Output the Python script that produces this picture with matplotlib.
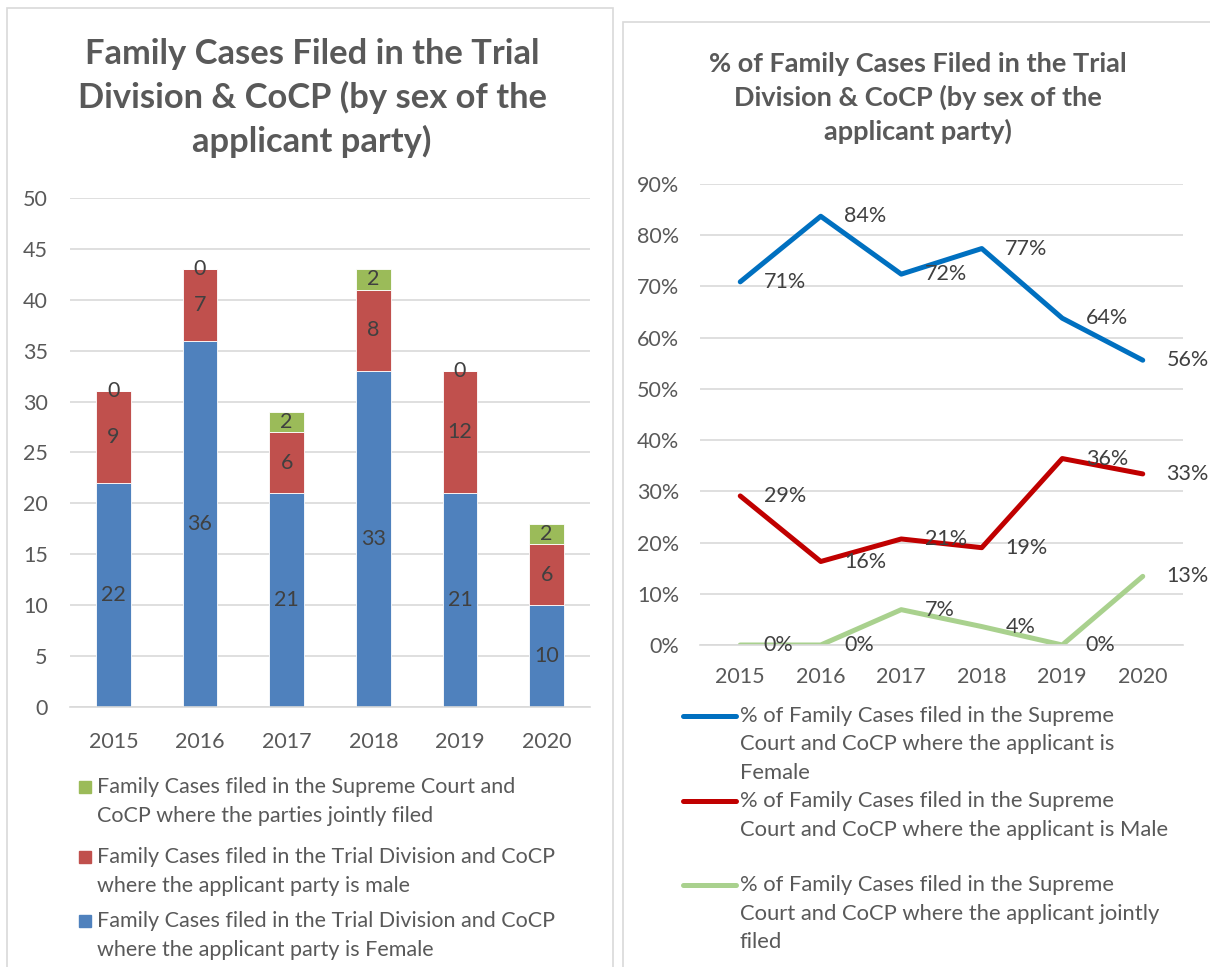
import matplotlib.pyplot as plt
from matplotlib.patches import Rectangle
from matplotlib.lines import Line2D
from matplotlib.ticker import PercentFormatter
import numpy as np

plt.rcParams['font.family'] = ['Lato', 'DejaVu Sans']

years = ['2015', '2016', '2017', '2018', '2019', '2020']

# case counts by applicant party
female = [22, 36, 21, 33, 21, 10]
male = [9, 7, 6, 8, 12, 6]
joint = [0, 0, 2, 2, 0, 2]

# share of cases by applicant party
pct_female = [0.709, 0.837, 0.724, 0.774, 0.638, 0.556]
pct_male = [0.291, 0.163, 0.207, 0.190, 0.364, 0.334]
pct_joint = [0.0, 0.0, 0.069, 0.036, 0.0, 0.134]

bar_legend = [
    'Family Cases filed in the Supreme Court and\nCoCP where the parties jointly filed',
    'Family Cases filed in the Trial Division and CoCP\nwhere the applicant party is male',
    'Family Cases filed in the Trial Division and CoCP\nwhere the applicant party is Female',
]
line_legend = [
    '% of Family Cases filed in the Supreme\nCourt and CoCP where the applicant is\nFemale',
    '% of Family Cases filed in the Supreme\nCourt and CoCP where the applicant is Male',
    '% of Family Cases filed in the Supreme\nCourt and CoCP where the applicant jointly\nfiled',
]

TXT = '#595959'
LBL = '#404040'
GRID = '#d9d9d9'
FS = 15.5

W, H = 1210, 967
fig = plt.figure(figsize=(W / 100, H / 100), dpi=100)


def fx(px):
    return px / W


def fy(py):
    return 1 - py / H


# chart frames
fig.patches.append(Rectangle((fx(7), fy(1000)), fx(606), (1000 - 8) / H, transform=fig.transFigure,
                             fill=False, edgecolor=GRID, lw=1.2))
fig.patches.append(Rectangle((fx(623), fy(1000)), fx(700), (1000 - 22) / H, transform=fig.transFigure,
                             fill=False, edgecolor=GRID, lw=1.2))


def style_axes(ax, ypad, xpad):
    for s in ['top', 'right', 'left']:
        ax.spines[s].set_visible(False)
    ax.spines['bottom'].set_color(GRID)
    ax.spines['bottom'].set_linewidth(1.2)
    ax.grid(axis='y', color=GRID, lw=1.2)
    ax.set_axisbelow(True)
    ax.tick_params(length=0, labelsize=FS, labelcolor=TXT)
    ax.tick_params(axis='y', pad=ypad)
    ax.tick_params(axis='x', pad=xpad)


# ---- stacked bars ----
x = np.arange(len(years))
ax1 = fig.add_axes([fx(70), fy(707), (590 - 70) / W, (707 - 198) / H])
b1 = ax1.bar(x, female, 0.4, color='#4F81BD', edgecolor='white', lw=0.6)
b2 = ax1.bar(x, male, 0.4, bottom=female, color='#C0504D', edgecolor='white', lw=0.6)
base = np.array(female) + np.array(male)
b3 = ax1.bar(x, joint, 0.4, bottom=base, color='#9BBB59', edgecolor='white', lw=0.6)
for b in [b1, b2, b3]:
    ax1.bar_label(b, label_type='center', fontsize=FS, color=LBL)
ax1.set_xlim(-0.5, 5.5)
ax1.set_ylim(0, 50)
ax1.set_yticks(range(0, 51, 5))
ax1.set_xticks(x, years)
style_axes(ax1, 16, 18)

fig.text(fx(312), fy(98), 'Family Cases Filed in the Trial\nDivision & CoCP (by sex of the\napplicant party)',
         ha='center', va='center', fontsize=24.8, weight='bold', color=TXT, linespacing=1.41)

# bar legend, top entry first
bar_cols = ['#9BBB59', '#C0504D', '#4F81BD']
bar_ys = [787, 857, 921]
for lab, c, y0 in zip(bar_legend, bar_cols, bar_ys):
    fig.patches.append(Rectangle((fx(79), fy(y0 + 6)), 12 / W, 12 / H, transform=fig.transFigure,
                                 color=c))
    for k, line in enumerate(lab.split('\n')):
        fig.text(fx(97), fy(y0 + 29 * k), line, va='center', ha='left', fontsize=FS, color=TXT)

# ---- percentage lines ----
ax2 = fig.add_axes([fx(700), fy(645), 483 / W, 461 / H])
line_cols = ['#0070C0', '#C00000', '#A9D18E']
for vals, c in zip([pct_female, pct_male, pct_joint], line_cols):
    ax2.plot(x, vals, color=c, lw=3.6, solid_capstyle='round', solid_joinstyle='round')
    for i, v in enumerate(vals):
        ax2.annotate(f'{v:.0%}', (i, v), xytext=(17, 0), textcoords='offset points',
                     va='center', ha='left', fontsize=FS, color=LBL)
ax2.set_xlim(-0.5, 5.5)
ax2.set_ylim(0, 0.9)
ax2.set_yticks(np.arange(0, 0.91, 0.1))
ax2.yaxis.set_major_formatter(PercentFormatter(1, decimals=0))
ax2.set_xticks(x, years)
style_axes(ax2, 15, 16)

fig.text(fx(918), fy(98), '% of Family Cases Filed in the Trial\nDivision & CoCP (by sex of the\napplicant party)',
         ha='center', va='center', fontsize=19.5, weight='bold', color=TXT, linespacing=1.4)

line_ys = [716, 801, 885]
for lab, c, y0 in zip(line_legend, line_cols, line_ys):
    fig.add_artist(Line2D([fx(683), fx(736)], [fy(y0), fy(y0)], transform=fig.transFigure,
                          color=c, lw=3.6, solid_capstyle='round'))
    for k, line in enumerate(lab.split('\n')):
        fig.text(fx(740), fy(y0 + 28.5 * k), line, va='center', ha='left', fontsize=15.8, color=TXT)

fig.savefig('out.png', dpi=100, facecolor='white')
